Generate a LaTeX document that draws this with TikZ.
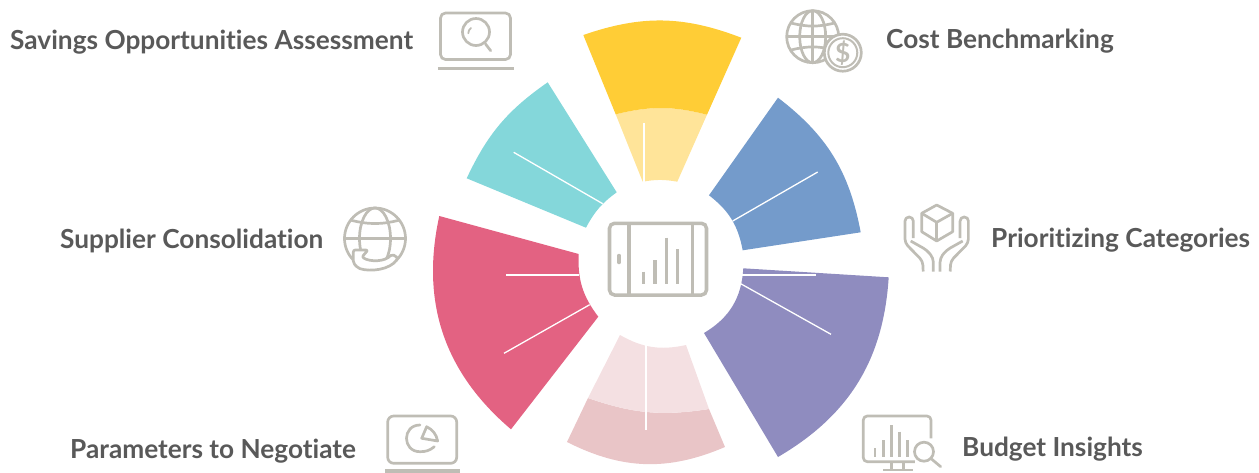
\documentclass[tikz,border=0pt]{standalone}
\usepackage{fontspec}
\setmainfont{Lato}[Ligatures=NoCommon]

\definecolor{sunyellow}{HTML}{FFCD36}
\definecolor{paleyellow}{HTML}{FFE499}
\definecolor{tealgreen}{HTML}{84D7DA}
\definecolor{steelblue}{HTML}{749BCB}
\definecolor{softpurple}{HTML}{8F8CBF}
\definecolor{rosered}{HTML}{E36282}
\definecolor{palepink}{HTML}{F4E0E2}
\definecolor{dustypink}{HTML}{E9C5C7}
\definecolor{icongray}{HTML}{BFBDB5}
\definecolor{labelgray}{HTML}{595959}

\begin{document}
\begin{tikzpicture}[x=0.01cm,y=-0.01cm,
          sectorline/.style={draw=white, line width=0.013cm},
          iconline/.style={draw=icongray, line width=0.027cm, line join=round, fill=none},
          iconthick/.style={draw=icongray, line width=0.035cm},
          itemlabel/.style={anchor=west, inner sep=0pt, text=labelgray, font=\fontsize{7.46pt}{9pt}\selectfont\bfseries}]

        \useasboundingbox (0,0) rectangle (1259,472);

        % yellow
        \fill[paleyellow] (707,114.7) to[bend right=14] (615.7,114.3) -- (642.7,181.7) to[bend left=10] (677.3,181.7) -- cycle;
        \fill[sunyellow] (741.3,37.7) to[bend right=20] (583.3,35) -- (615.7,114.3) to[bend left=14] (707,114.7) -- cycle;
        \draw[sectorline] (644,123.3) -- (644,181.7);

        % teal
        \fill[tealgreen] (547.7,82.3) to[bend right=15] (466.7,178.3) -- (586,227.7) to[bend left=13] (616.7,192.3) -- cycle;
        \draw[sectorline] (513.7,152.3) -- (602.7,203.7);

        % blue
        \fill[steelblue] (860.7,232.3) to[bend right=21] (778,97.7) -- (709,195.3) to[bend left=21] (742.7,250.3) -- cycle;
        \draw[sectorline] (732.7,221) -- (817.7,172);

        % purple
        \fill[softpurple] (778,457) to[bend right=28] (888.7,277.3) -- (743.3,268.3) to[bend left=28] (704,333) -- cycle;
        \draw[sectorline] (742.3,275) -- (815.7,275);
        \draw[sectorline] (740.7,283.7) -- (831,334.3);

        % red
        \fill[rosered] (439.3,216) to[bend right=31] (511,429.3) -- (598.3,316.7) to[bend left=20] (578.7,254) -- cycle;
        \draw[sectorline] (506.3,275) -- (579.3,275);
        \draw[sectorline] (504,353.3) -- (589.7,304.7);

        % pink
        \fill[dustypink] (567,442) to[bend right=25] (725,447) -- (709,409) to[bend left=14] (588,398) -- cycle;
        \fill[palepink] (588,398) to[bend right=14] (709,409) -- (686,345) to[bend left=21] (620,335) -- cycle;
        \draw[sectorline] (646,345) -- (646,430);

        % tablet in the middle
        \draw[iconthick, rounded corners=0.05cm] (609.5,223.3) rectangle (706.5,295);
        \draw[iconthick] (629,223.3) -- (629,295);
        \draw[iconthick] (692.3,223.3) -- (692.3,295);
        \draw[iconthick, line cap=round] (619,255.5) -- (619,262.5);
        \draw[iconthick] (643.5,271.7) -- (643.5,284.3);
        \draw[iconthick] (655,260.3) -- (655,284.3);
        \draw[iconthick] (666.7,237.7) -- (666.7,284.3);
        \draw[iconthick] (677.7,249) -- (677.7,284.3);

        % laptop with lens
        \draw[iconline, rounded corners=0.05cm] (440.5,13) rectangle (510.5,59.5);
        \draw[iconthick] (438,68.3) -- (514,68.3);
        \draw[iconline] (476,32) circle[radius=13.5];
        \draw[iconline, line cap=round] (485.5,44) -- (490.7,50.7);
        \draw[iconline, line width=0.018cm, line cap=round] (468.3,33.3) to[bend left=25] (471,28);

        % globe with coin
        \draw[iconline] (812.7,36.7) circle[radius=26];
        \draw[iconline] (812.7,36.7) ellipse[x radius=13, y radius=26];
        \draw[iconline] (812.7,10.7) -- (812.7,62.7);
        \draw[iconline] (786.7,36.7) -- (838.7,36.7);
        \draw[iconline] (791,23) to[bend right=14] (834.5,23);
        \draw[iconline] (791,50) to[bend left=14] (834.5,50);
        \draw[iconline, fill=white] (842.8,52.7) circle[radius=18.5];
        \draw[iconline, line width=0.02cm] (842.8,52.7) circle[radius=14.5];
        \node[text=icongray, inner sep=0pt, font=\fontsize{7.5pt}{9pt}\selectfont\bfseries] (coinsign) at (842.8,52.7) {\$};

        % box over two hands
        \draw[iconline] (936.7,205) -- (952.7,213.3) -- (952.7,231.7) -- (936.7,241) -- (921.7,231.7) -- (921.7,213.3) -- cycle;
        \draw[iconline] (921.7,213.3) -- (936.7,222.3) -- (952.7,213.3);
        \draw[iconline] (936.7,222.3) -- (936.7,241);
        \foreach \side in {-1,1} {
          \begin{scope}[shift={(936.7,0)}, xscale=\side]
            \draw[iconline, rounded corners=0.04cm] (-13.5,271.5) -- (-14,261) -- (-31.7,243) -- (-31.7,217) -- (-23.4,217) -- (-23.4,238);
            \draw[iconline, rounded corners=0.04cm] (-26,241) -- (-10,250) -- (-3.4,258) -- (-3.4,271.5);
          \end{scope}
        }

        % monitor with lens
        \draw[iconline, rounded corners=0.04cm] (931,438.3) -- (931,416) -- (863.3,416) -- (863.3,461.7) -- (915,461.7);
        \draw[iconline] (891.7,461.7) -- (891.7,470);
        \draw[iconline] (903.3,461.7) -- (903.3,470);
        \draw[iconline] (883.3,470) -- (913.3,470);
        \draw[iconline] (875,448.3) -- (875,456.7);
        \draw[iconline] (883.3,440) -- (883.3,456.7);
        \draw[iconline] (891.3,425) -- (891.3,456.7);
        \draw[iconline] (899.3,431.7) -- (899.3,456.7);
        \draw[iconline] (907.3,440) -- (907.3,456.7);
        \draw[iconline] (924,451.7) circle[radius=9.5];
        \draw[iconline, line cap=round] (930.7,458.3) -- (940.7,466.7);

        % laptop with pie
        \draw[iconline, rounded corners=0.06cm] (387.7,416) rectangle (456.7,463.3);
        \draw[iconthick] (385,471) -- (460,471);
        \draw[iconline, line cap=round] (420,425) .. controls (402,425) and (402,451.7) .. (420,451.7) to[bend right=20] (434.3,446.7);
        \draw[iconline] (426.7,426.7) to[bend left=25] (437.7,441) -- (421.7,438.3) -- cycle;

        % globe with arrow
        \draw[iconline] (375,238.5) circle[radius=30.5];
        \draw[iconline] (375,238.5) ellipse[x radius=15.5, y radius=30.5];
        \draw[iconline] (344.5,238.5) -- (405.5,238.5);
        \draw[iconline] (350,220) to[bend right=14] (400,220);
        \draw[iconline, fill=white, rounded corners=0.02cm] (353.3,250) -- (368,250) -- (362,257) .. controls (370,262) and (385,262) .. (392,254) -- (398,258) .. controls (390,270) and (370,272) .. (358,268) -- (353.3,263) -- cycle;

        % labels
        \node[itemlabel] (savings) at (9.5,42) {Savings Opportunities Assessment};
        \node[itemlabel] (benchmark) at (885.5,41) {Cost Benchmarking};
        \node[itemlabel] (categories) at (990.5,240) {Prioritizing Categories};
        \node[itemlabel] (budget) at (961.5,449) {Budget Insights};
        \node[itemlabel] (parameters) at (69.5,451) {Parameters to Negotiate};
        \node[itemlabel] (supplier) at (59.5,241) {Supplier Consolidation};

      \end{tikzpicture}
\end{document}
